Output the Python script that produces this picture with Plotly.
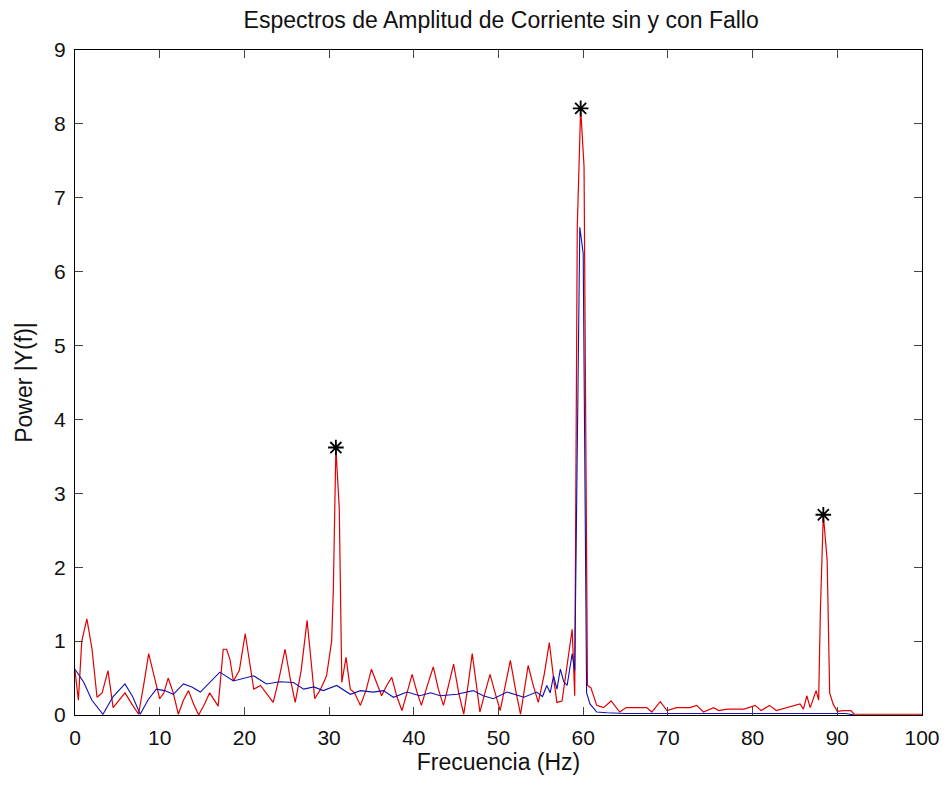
import plotly.graph_objects as go

# Red: spectrum with fault
red_f = [0, 0.4, 0.8, 1.4, 2.0, 2.6, 3.2, 3.9, 4.5, 5.2, 5.9, 6.7, 7.5, 8.1, 8.7, 9.4, 10.0,
         10.5, 11.0, 11.6, 12.2, 12.8, 13.4, 14.0, 14.6, 15.3, 15.9, 16.9, 17.5, 17.9, 18.3,
         18.7, 19.4, 20.1, 20.6, 21.1, 21.9, 22.6, 23.4, 24.1, 24.8, 25.4, 26.0, 26.7, 27.4,
         27.9, 28.3, 29.0, 29.7, 30.3, 30.5, 30.8, 31.2, 31.5, 32.0, 32.5, 33.0, 33.7, 34.4,
         35.0, 35.6, 36.2, 36.8, 37.4, 38.0, 38.6, 39.2, 39.8, 40.4, 40.9, 41.6, 42.3, 42.9,
         43.5, 44.1, 44.7, 45.3, 45.9, 46.4, 46.9, 47.4, 47.8, 48.4, 49.0, 49.6, 50.2, 50.8,
         51.4, 52.0, 52.6, 53.0, 53.5, 54.1, 54.7, 55.4, 56.0, 56.5, 56.9, 57.5, 58.1, 58.7,
         59.0, 59.3, 59.7, 60.1, 60.5, 60.9, 61.6, 62.4, 63.3, 64.3, 65.1, 66.3, 67.5, 68.1,
         69.1, 69.9, 71.0, 72.6, 73.4, 74.2, 75.4, 76.0, 77.0, 79.0, 80.3, 81.0, 82.0, 82.8,
         84.0, 85.6, 86.0, 86.4, 86.8, 87.5, 87.8, 88.0, 88.35, 88.8, 89.1, 89.5, 90.0, 90.7,
         91.6, 92.0, 100.0]
red_y = [0.6, 0.2, 1.0, 1.3, 0.9, 0.24, 0.3, 0.6, 0.1, 0.2, 0.3, 0.15, 0.01, 0.4, 0.83, 0.5, 0.22,
         0.3, 0.5, 0.3, 0.01, 0.2, 0.33, 0.15, 0.0, 0.15, 0.3, 0.12, 0.89, 0.89, 0.75,
         0.46, 0.6, 1.1, 0.7, 0.35, 0.4, 0.3, 0.17, 0.5, 0.89, 0.5, 0.17, 0.6, 1.28,
         0.7, 0.22, 0.35, 0.53, 1.0, 1.7, 3.62, 2.8, 0.44, 0.78, 0.35, 0.3, 0.13, 0.35,
         0.62, 0.45, 0.26, 0.4, 0.51, 0.25, 0.06, 0.3, 0.55, 0.3, 0.13, 0.4, 0.65, 0.35,
         0.13, 0.4, 0.69, 0.3, 0.01, 0.4, 0.83, 0.4, 0.04, 0.3, 0.55, 0.3, 0.06, 0.4,
         0.74, 0.35, 0.01, 0.3, 0.67, 0.4, 0.17, 0.55, 0.98, 0.5, 0.17, 0.19, 0.7, 1.16,
         0.26, 6.6, 8.21, 7.42, 0.4, 0.37, 0.13, 0.1, 0.19, 0.04, 0.1, 0.1, 0.1, 0.04,
         0.18, 0.06, 0.1, 0.1, 0.13, 0.04, 0.1, 0.06, 0.08, 0.08, 0.13, 0.06, 0.13, 0.06,
         0.1, 0.15, 0.08, 0.26, 0.1, 0.33, 0.2, 1.4, 2.71, 2.1, 0.3, 0.15, 0.05, 0.06,
         0.06, 0.01, 0.01]

# Blue: spectrum without fault
blue_f = [0, 1.0, 2.0, 3.3, 4.5, 5.9, 6.8, 7.7, 8.6, 9.6, 10.6, 11.6, 12.8, 13.8, 14.8, 16.0,
          17.1, 18.7, 19.9, 21.1, 22.6, 24.2, 25.8, 27.0, 28.2, 29.3, 30.9, 32.5, 33.7, 35.2,
          36.4, 37.6, 39.2, 40.7, 42.0, 43.1, 45.1, 47.0, 48.2, 49.4, 51.0, 53.0, 54.5, 55.2,
          55.7, 56.1, 56.5, 56.9, 57.3, 57.7, 58.1, 58.7, 59.0, 59.3, 59.6, 60.0, 60.4, 60.8,
          61.6, 62.8, 65.0, 70.0, 75.0, 80.0, 85.0, 88.0, 89.0, 91.0, 92.0]
blue_y = [0.62, 0.45, 0.2, 0.01, 0.25, 0.42, 0.25, 0.01, 0.2, 0.35, 0.33, 0.28, 0.42, 0.38, 0.31, 0.45,
          0.58, 0.46, 0.5, 0.53, 0.42, 0.45, 0.44, 0.35, 0.38, 0.33, 0.4, 0.28, 0.33, 0.31,
          0.33, 0.24, 0.31, 0.26, 0.3, 0.26, 0.28, 0.33, 0.26, 0.22, 0.31, 0.24, 0.31, 0.25,
          0.4, 0.3, 0.53, 0.35, 0.62, 0.45, 0.4, 0.83, 0.6, 3.5, 6.6, 6.25, 0.3, 0.15,
          0.04, 0.03, 0.02, 0.02, 0.02, 0.02, 0.02, 0.03, 0.02, 0.02, 0.0]

# Peak markers
peak_f = [30.8, 59.7, 88.35]
peak_y = [3.62, 8.21, 2.71]

x_ticks = [0, 10, 20, 30, 40, 50, 60, 70, 80, 90, 100]
y_ticks = [0, 1, 2, 3, 4, 5, 6, 7, 8, 9]

fig = go.Figure()
fig.add_trace(go.Scatter(x=red_f, y=red_y, mode="lines",
                         line=dict(color="#e00000", width=1.2), showlegend=False))
fig.add_trace(go.Scatter(x=blue_f, y=blue_y, mode="lines",
                         line=dict(color="#1010b0", width=1.1), showlegend=False))
fig.add_trace(go.Scatter(x=peak_f, y=peak_y, mode="markers",
                         marker=dict(symbol="asterisk-open", size=13, color="black",
                                     line=dict(color="black", width=1.8)),
                         showlegend=False))

font = "Liberation Sans, Arial, sans-serif"
fig.update_layout(
    width=946, height=789,
    margin=dict(l=75, r=24, t=50, b=74),
    paper_bgcolor="white", plot_bgcolor="white",
    title=dict(text="Espectros de Amplitud de Corriente sin y con Fallo",
               x=476 / 946, xanchor="center", xref="paper",
               y=1 - 20 / 789, yanchor="middle",
               font=dict(family=font, size=23, color="#111")),
    xaxis=dict(range=[0, 100], tickvals=x_ticks, ticks="inside", ticklen=8,
               showline=True, linecolor="black", linewidth=1, mirror="ticks",
               showgrid=False, zeroline=False, ticklabelstandoff=4, automargin=False,
               tickfont=dict(family=font, size=21, color="#111"),
               title=dict(text="Frecuencia (Hz)", standoff=2,
                          font=dict(family=font, size=23, color="#111"))),
    yaxis=dict(range=[0, 9], tickvals=y_ticks, ticks="inside", ticklen=8,
               showline=True, linecolor="black", linewidth=1, mirror="ticks",
               showgrid=False, zeroline=False, ticklabelstandoff=4, automargin=False,
               tickfont=dict(family=font, size=21, color="#111"),
               title=dict(text="Power |Y(f)|", standoff=15,
                          font=dict(family=font, size=23, color="#111"))),
)

fig.write_html("out.html")
